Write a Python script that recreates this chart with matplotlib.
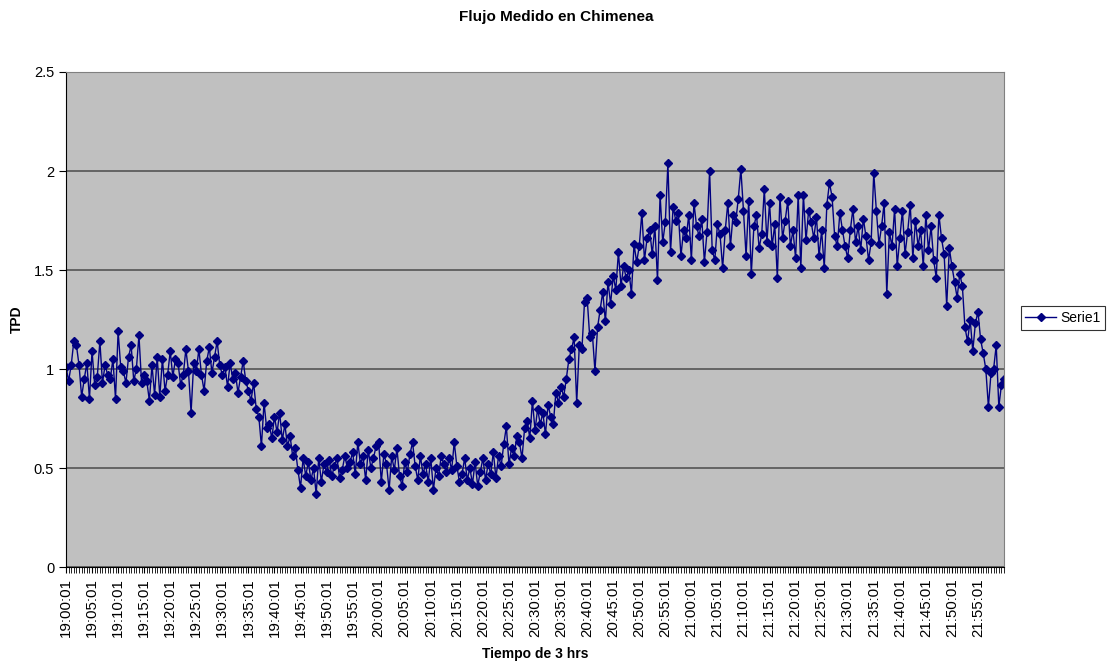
import numpy as np
import matplotlib.pyplot as plt
from datetime import datetime, timedelta

plt.rcParams['font.family'] = ['Liberation Sans', 'DejaVu Sans']

# lecturas cada 30 s, de 19:00:01 a 22:00:01
tpd = [
    1.01, 0.94, 1.02, 1.14, 1.12, 1.02, 0.86, 0.95, 1.03, 0.85,
    1.09, 0.92, 0.96, 1.14, 0.93, 1.02, 0.97, 0.95, 1.05, 0.85,
    1.19, 1.01, 0.99, 0.93, 1.06, 1.12, 0.94, 1.00, 1.17, 0.93,
    0.97, 0.94, 0.84, 1.02, 0.87, 1.06, 0.86, 1.05, 0.89, 0.97,
    1.09, 0.96, 1.05, 1.03, 0.92, 0.97, 1.10, 0.99, 0.78, 1.03,
    0.99, 1.10, 0.97, 0.89, 1.04, 1.11, 0.98, 1.06, 1.14, 1.02,
    0.97, 1.01, 0.91, 1.03, 0.95, 0.98, 0.88, 0.96, 1.04, 0.94,
    0.89, 0.84, 0.93, 0.80, 0.76, 0.61, 0.83, 0.70, 0.72, 0.65,
    0.76, 0.68, 0.78, 0.64, 0.72, 0.61, 0.66, 0.56, 0.60, 0.49,
    0.40, 0.55, 0.46, 0.53, 0.44, 0.50, 0.37, 0.55, 0.43, 0.52,
    0.48, 0.54, 0.46, 0.51, 0.55, 0.45, 0.49, 0.56, 0.50, 0.53,
    0.58, 0.47, 0.63, 0.52, 0.56, 0.44, 0.59, 0.50, 0.55, 0.61,
    0.63, 0.43, 0.57, 0.52, 0.39, 0.56, 0.49, 0.60, 0.46, 0.41,
    0.53, 0.48, 0.57, 0.63, 0.51, 0.44, 0.56, 0.47, 0.52, 0.43,
    0.55, 0.39, 0.50, 0.46, 0.56, 0.52, 0.48, 0.55, 0.49, 0.63,
    0.51, 0.43, 0.47, 0.55, 0.44, 0.50, 0.42, 0.53, 0.41, 0.48,
    0.55, 0.44, 0.52, 0.47, 0.58, 0.45, 0.56, 0.51, 0.62, 0.71,
    0.52, 0.60, 0.56, 0.66, 0.63, 0.55, 0.70, 0.74, 0.65, 0.84,
    0.69, 0.80, 0.72, 0.78, 0.67, 0.82, 0.76, 0.72, 0.88, 0.83,
    0.91, 0.86, 0.95, 1.05, 1.10, 1.16, 0.83, 1.12, 1.10, 1.34,
    1.36, 1.16, 1.18, 0.99, 1.21, 1.30, 1.39, 1.24, 1.44, 1.33,
    1.47, 1.40, 1.59, 1.42, 1.52, 1.46, 1.50, 1.38, 1.63, 1.54,
    1.62, 1.79, 1.55, 1.66, 1.70, 1.58, 1.72, 1.45, 1.88, 1.64,
    1.74, 2.04, 1.59, 1.82, 1.75, 1.79, 1.57, 1.70, 1.66, 1.78,
    1.55, 1.84, 1.72, 1.67, 1.76, 1.54, 1.69, 2.00, 1.60, 1.55,
    1.73, 1.68, 1.51, 1.70, 1.84, 1.62, 1.78, 1.74, 1.86, 2.01,
    1.80, 1.57, 1.85, 1.48, 1.72, 1.78, 1.61, 1.68, 1.91, 1.64,
    1.84, 1.62, 1.73, 1.46, 1.87, 1.66, 1.75, 1.85, 1.62, 1.70,
    1.56, 1.88, 1.51, 1.88, 1.65, 1.80, 1.74, 1.66, 1.77, 1.57,
    1.70, 1.51, 1.83, 1.94, 1.87, 1.67, 1.62, 1.79, 1.70, 1.62,
    1.56, 1.70, 1.81, 1.64, 1.72, 1.60, 1.76, 1.67, 1.55, 1.64,
    1.99, 1.80, 1.63, 1.72, 1.84, 1.38, 1.69, 1.62, 1.81, 1.52,
    1.66, 1.80, 1.58, 1.69, 1.83, 1.56, 1.75, 1.62, 1.70, 1.52,
    1.78, 1.60, 1.72, 1.55, 1.46, 1.78, 1.66, 1.58, 1.32, 1.61,
    1.52, 1.44, 1.36, 1.48, 1.42, 1.21, 1.14, 1.25, 1.09, 1.23,
    1.29, 1.15, 1.08, 1.00, 0.81, 0.98, 1.00, 1.12, 0.81, 0.92,
    0.95,
]

t0 = datetime(2000, 1, 1, 19, 0, 1)
horas = [(t0 + timedelta(seconds=30 * i)).strftime('%H:%M:%S') for i in range(len(tpd))]
x = np.arange(len(tpd))

fig = plt.figure(figsize=(11.13, 6.66), dpi=100)
ax = fig.add_axes([0.0593, 0.1486, 0.8428, 0.7433])
ax.set_facecolor('#c0c0c0')

ax.plot(x, tpd, color='#000080', lw=1.0, marker='D', markersize=4.5,
        markerfacecolor='#000080', markeredgecolor='#000080', label='Serie1')

ax.set_xlim(0, len(tpd) - 1)
ax.set_ylim(0, 2.5)
ax.set_yticks(np.arange(0, 2.51, 0.5))
ax.set_yticklabels(['0', '0.5', '1', '1.5', '2', '2.5'])
ax.yaxis.grid(True, color='#555555', lw=1.2)
ax.set_axisbelow(True)

# etiquetas cada 5 minutos, marcas en cada lectura
ax.set_xticks(x[:-1:10])
ax.set_xticklabels(horas[:-1:10], rotation=90)
ax.set_xticks(x, minor=True)
ax.tick_params(axis='x', which='major', length=4, width=0.8, labelsize=10.8, pad=4)
ax.tick_params(axis='x', which='minor', length=4, width=0.6)
ax.tick_params(axis='y', length=5, width=0.8, labelsize=10.5)

for s in ['top', 'right']:
    ax.spines[s].set_color('#808080')
for s in ['left', 'bottom']:
    ax.spines[s].set_color('black')

fig.text(0.5, 0.974, 'Flujo Medido en Chimenea', ha='center', va='center',
         fontsize=11, fontweight='bold')
ax.set_xlabel('Tiempo de 3 hrs', fontsize=10, fontweight='bold')
ax.xaxis.set_label_coords(0.5, -0.162)
ax.set_ylabel('TPD', fontsize=10, fontweight='bold')
ax.yaxis.set_label_coords(-0.045, 0.5)

leg = fig.legend(loc='center', bbox_to_anchor=(0.955, 0.522), fontsize=10,
                 frameon=True, fancybox=False, edgecolor='black',
                 handlelength=2.2, borderpad=0.35, handletextpad=0.3, markerscale=1.0)
leg.get_frame().set_linewidth(0.8)

fig.savefig('out.png', dpi=100)
